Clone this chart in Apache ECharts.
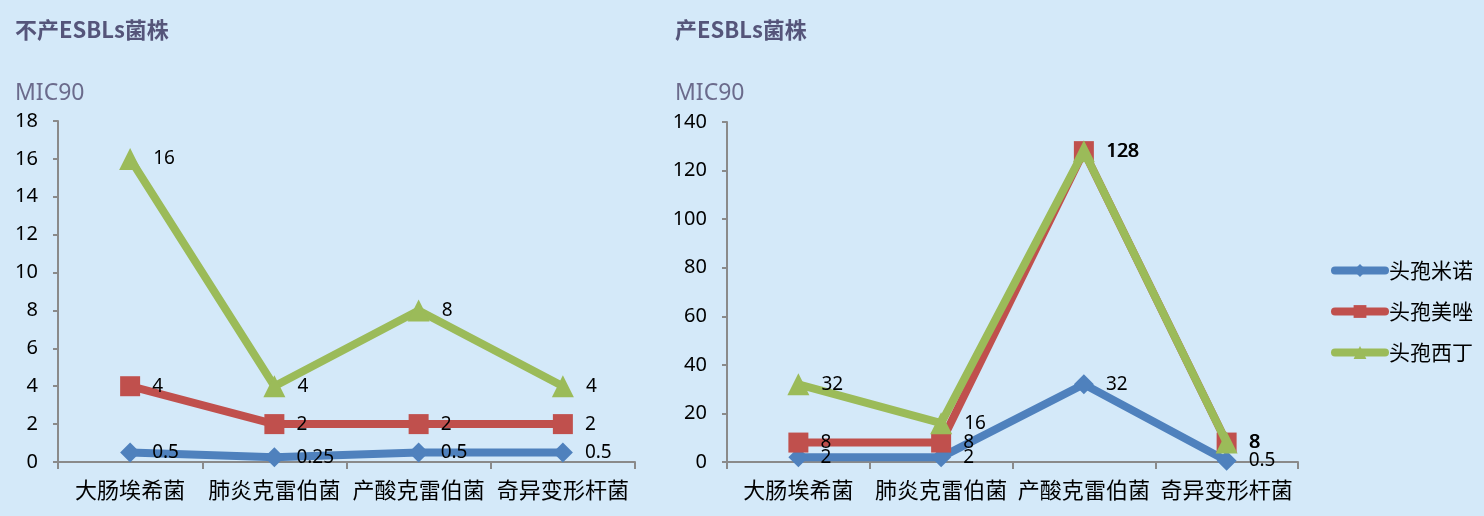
<!DOCTYPE html>
<html>
<head>
<meta charset="utf-8">
<script src="https://cdn.jsdelivr.net/npm/echarts@6/dist/echarts.min.js"></script>
<style>
  html, body { margin: 0; padding: 0; background: #d4e9f9; }
  #chart { width: 1484px; height: 516px; }
</style>
</head>
<body>
<div id="chart"></div>
<script>
// categories and values
var categories = ['大肠埃希菌', '肺炎克雷伯菌', '产酸克雷伯菌', '奇异变形杆菌'];
var seriesNames = ['头孢米诺', '头孢美唑', '头孢西丁'];

var leftMino = [0.5, 0.25, 0.5, 0.5];
var leftMeta = [4, 2, 2, 2];
var leftXiding = [16, 4, 8, 4];

var rightMino = [2, 2, 32, 0.5];
var rightMeta = [8, 8, 128, 8];
var rightXiding = [32, 16, 128, 8];

var colors = ['#4f81bd', '#c0504d', '#9bbb59'];
var symbols = ['diamond', 'rect', 'triangle'];
var symbolSizes = [20, 20, 22];

var cjk = '"Noto Sans CJK SC", "Noto Sans", sans-serif';
var num = '"Noto Sans", "Liberation Sans", sans-serif';

function makeSeries(data, idx, axisIdx) {
    return {
        name: seriesNames[idx],
        type: 'line',
        xAxisIndex: axisIdx,
        yAxisIndex: axisIdx,
        data: data,
        symbol: symbols[idx],
        symbolSize: symbolSizes[idx],
        lineStyle: { width: 8, color: colors[idx] },
        itemStyle: { color: colors[idx] },
        label: {
            show: true,
            position: 'right',
            distance: 12,
            color: '#000',
            fontSize: 19,
            fontFamily: num
        },
        emphasis: { disabled: true },
        z: 2 + idx
    };
}

function xAxis(gridIdx) {
    return {
        type: 'category',
        gridIndex: gridIdx,
        data: categories,
        axisLine: { lineStyle: { color: '#8a8a8a', width: 2 } },
        axisTick: { show: true, length: 7, lineStyle: { color: '#8a8a8a', width: 2 } },
        axisLabel: { interval: 0, color: '#000', fontSize: 22, fontFamily: cjk, margin: 17 }
    };
}

function yAxis(gridIdx, max, interval) {
    return {
        type: 'value',
        gridIndex: gridIdx,
        min: 0,
        max: max,
        interval: interval,
        splitLine: { show: false },
        axisLine: { show: true, lineStyle: { color: '#8a8a8a', width: 2 } },
        axisTick: { show: true, length: 5, lineStyle: { color: '#8a8a8a', width: 2 } },
        axisLabel: { color: '#000', fontSize: 20, fontFamily: num, margin: 20 }
    };
}

var chart = echarts.init(document.getElementById('chart'));
chart.setOption({
    backgroundColor: '#d4e9f9',
    animation: false,
    title: [
        { text: '不产ESBLs菌株', left: 10, top: 14,
          textStyle: { color: '#55557a', fontSize: 22, fontWeight: 'bold', fontFamily: cjk } },
        { text: 'MIC90', left: 10, top: 77,
          textStyle: { color: '#6b6b8c', fontSize: 23, fontWeight: 'normal', fontFamily: num } },
        { text: '产ESBLs菌株', left: 670, top: 14,
          textStyle: { color: '#55557a', fontSize: 22, fontWeight: 'bold', fontFamily: cjk } },
        { text: 'MIC90', left: 670, top: 77,
          textStyle: { color: '#6b6b8c', fontSize: 23, fontWeight: 'normal', fontFamily: num } }
    ],
    legend: {
        orient: 'vertical',
        left: 1326,
        top: 255,
        itemGap: 20,
        itemWidth: 50,
        itemHeight: 16,
        lineStyle: { width: 8, cap: 'round' },
        textStyle: { color: '#000', fontSize: 21, fontFamily: cjk, padding: [0, 0, 0, -1] },
        data: seriesNames
    },
    grid: [
        { left: 58, top: 121, width: 577, height: 341 },
        { left: 727, top: 122, width: 571, height: 340 }
    ],
    xAxis: [xAxis(0), xAxis(1)],
    yAxis: [yAxis(0, 18, 2), yAxis(1, 140, 20)],
    series: [
        makeSeries(leftMino, 0, 0),
        makeSeries(leftMeta, 1, 0),
        makeSeries(leftXiding, 2, 0),
        makeSeries(rightMino, 0, 1),
        makeSeries(rightMeta, 1, 1),
        makeSeries(rightXiding, 2, 1)
    ]
});
</script>
</body>
</html>
